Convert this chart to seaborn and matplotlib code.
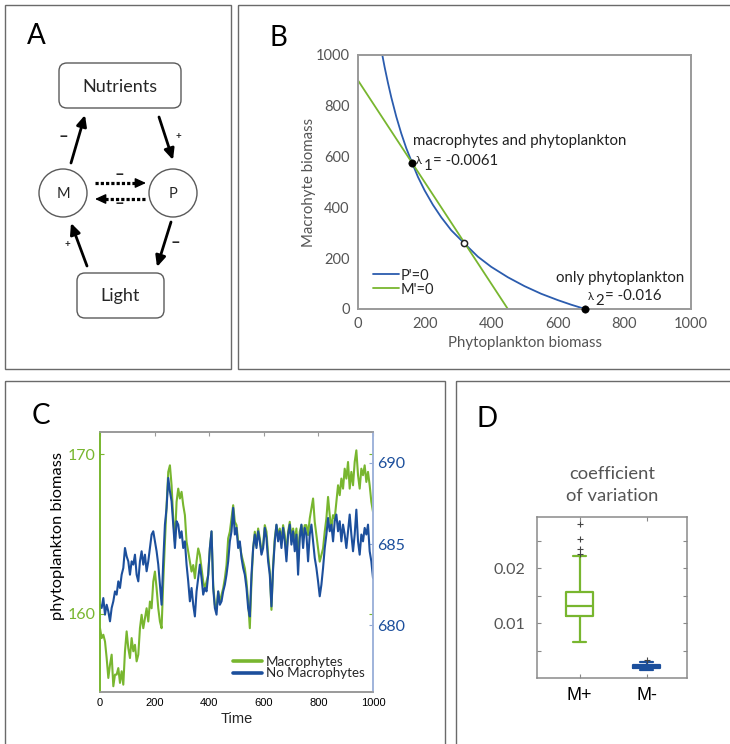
import numpy as np
import pandas as pd
import matplotlib
matplotlib.use("Agg")
import matplotlib.pyplot as plt
from matplotlib.patches import FancyBboxPatch, Circle, FancyArrowPatch, Rectangle
import seaborn as sns

sns.set_style("white")
plt.rcParams["font.family"] = ["Lato", "DejaVu Sans"]

GREEN = "#78b62f"
BLUE = "#1c4f9c"
BLUE_B = "#2b5cae"
GRAY = "#555555"
SPINE = "#9a9a9a"

# ---------------- data ----------------
# B: nullclines of the phytoplankton / macrophyte model
p_null_x = [73, 80, 90, 100, 115, 130, 145, 163, 180, 200, 225, 250, 280, 318, 360, 400,
            450, 500, 550, 600, 640, 682]
p_null_y = [1000, 952, 890, 833, 757, 691, 633, 574, 520, 467, 410, 361, 310, 260, 206, 166,
            125, 90, 60, 35, 17, 0]
m_null_x = [0, 450]
m_null_y = [900, 0]
stable_x = [163, 682]
stable_y = [574, 0]
saddle_x = [318]
saddle_y = [261]

# C: phytoplankton biomass through time (left axis: with macrophytes, right axis: without)
macro = [
    159.10, 158.48, 158.69, 158.27, 157.23, 155.98, 156.81, 157.44, 155.46, 156.19,
    156.19, 156.60, 155.67, 156.40, 155.56, 157.65, 158.90, 157.85, 157.23, 158.48,
    157.65, 158.06, 157.02, 157.44, 159.10, 159.94, 159.10, 159.73, 160.35, 159.52,
    160.77, 160.35, 162.02, 162.65, 161.60, 160.35, 159.52, 159.10, 162.02, 164.52,
    166.81, 168.90, 169.31, 168.06, 165.98, 164.52, 167.02, 167.85, 167.23, 167.65,
    166.81, 166.19, 164.52, 163.90, 163.27, 162.65, 163.06, 162.23, 163.27, 164.10,
    163.69, 162.85, 162.02, 161.60, 162.02, 162.44, 164.10, 165.15, 161.81, 160.56,
    160.35, 161.40, 160.77, 161.19, 161.60, 162.23, 163.06, 164.73, 165.15, 165.98,
    166.81, 165.77, 165.56, 164.52, 164.31, 163.69, 163.27, 162.85, 162.02, 160.77,
    159.10, 162.02, 164.10, 165.15, 164.31, 165.35, 164.73, 163.90, 164.31, 165.56,
    165.15, 163.69, 162.65, 160.25, 163.06, 164.73, 165.56, 164.94, 165.35, 164.52,
    165.56, 164.94, 163.69, 165.15, 165.77, 164.73, 165.35, 164.52, 165.35, 163.27,
    165.15, 165.56, 164.94, 165.56, 165.56, 164.94, 165.98, 166.60, 167.23, 165.77,
    164.94, 164.10, 163.27, 163.69, 164.10, 165.15, 165.98, 167.33, 166.19, 165.35,
    166.19, 165.98, 167.02, 168.06, 167.44, 168.48, 167.85, 169.10, 168.48, 169.52,
    167.85, 168.90, 168.06, 169.52, 170.25, 168.69, 167.85, 169.10, 168.69, 169.31,
    168.27, 168.90, 168.06, 167.02, 166.40,
]
no_macro = [
    681.27, 681.07, 681.68, 680.66, 681.27, 680.86, 680.25, 681.07, 681.48, 682.09,
    681.89, 682.71, 682.30, 683.12, 683.53, 684.76, 684.25, 683.94, 683.12, 683.94,
    683.74, 684.35, 683.12, 682.71, 683.94, 684.56, 683.74, 684.35, 683.33, 683.94,
    684.76, 685.59, 685.79, 685.17, 684.56, 683.74, 682.50, 681.27, 683.94, 686.20,
    687.23, 689.07, 688.25, 687.64, 686.20, 684.76, 686.41, 686.20, 685.38, 685.79,
    684.76, 685.17, 683.74, 682.71, 681.48, 682.30, 681.27, 680.55, 682.09, 682.92,
    683.74, 682.92, 681.89, 682.30, 682.09, 683.12, 684.76, 685.79, 682.30, 681.07,
    680.66, 682.09, 681.27, 681.48, 682.09, 682.50, 683.12, 683.94, 685.17, 685.79,
    687.23, 685.59, 686.00, 684.76, 685.17, 684.15, 683.53, 683.12, 682.30, 681.07,
    680.55, 683.12, 684.76, 685.59, 684.76, 685.79, 685.17, 684.35, 684.76, 686.00,
    685.38, 683.94, 683.12, 681.17, 683.53, 685.17, 686.20, 685.17, 685.79, 684.76,
    686.00, 685.17, 683.94, 685.59, 686.20, 684.97, 685.79, 684.56, 685.59, 683.12,
    685.38, 686.20, 684.76, 686.00, 685.59, 683.94, 685.59, 686.20, 685.17, 684.15,
    683.53, 682.71, 681.79, 682.50, 683.53, 684.76, 685.59, 686.61, 685.79, 686.20,
    685.17, 686.41, 686.82, 685.79, 686.41, 685.17, 686.20, 685.59, 684.76, 685.79,
    686.82, 685.59, 684.56, 685.59, 687.12, 685.17, 684.35, 685.59, 685.17, 686.00,
    685.59, 686.20, 684.56, 683.94, 682.92,
]
time = np.linspace(0, 1000, len(macro))

# D: coefficient of variation of the simulated runs
groups = ["M+", "M-"]
cv_m_plus = [0.00666, 0.0085, 0.0095, 0.0103, 0.0109, 0.01133, 0.0118, 0.0123, 0.0127, 0.0130,
             0.0132, 0.0136, 0.0141, 0.0147, 0.0152, 0.01575, 0.02224, 0.0227, 0.0236, 0.0254,
             0.0281]
cv_m_minus = [0.00145, 0.0016, 0.0017, 0.0018, 0.0019, 0.00195, 0.0020, 0.00205, 0.0021, 0.00215,
              0.0022, 0.00225, 0.0023, 0.00235, 0.0024, 0.00245, 0.0025, 0.0026, 0.0028, 0.00295,
              0.00325]

# ---------------- figure ----------------
W, H = 730, 744
fig = plt.figure(figsize=(W / 100, H / 100), dpi=100)


def rect(x0, y0, x1, y1):
    return [x0 / W, 1 - y1 / H, (x1 - x0) / W, (y1 - y0) / H]


canvas = fig.add_axes([0, 0, 1, 1], zorder=-5)
canvas.set_xlim(0, W)
canvas.set_ylim(H, 0)
canvas.axis("off")

# panel frames
for (x, y, w, h) in [(5, 5, 226, 364), (238, 5, 520, 364), (5, 381, 440, 420), (456, 381, 320, 420)]:
    canvas.add_patch(Rectangle((x, y), w, h, fill=False, ec="#6a6a6a", lw=1.0))

for lab, (x, y) in {"A": (36, 36), "B": (278, 38), "C": (41, 416), "D": (487, 419)}.items():
    canvas.text(x, y, lab, fontsize=20, ha="center", va="center", color="black")

# ---------------- A: interaction diagram ----------------
for (x, y, w, h, txt) in [(59, 63, 122, 45, "Nutrients"), (77, 273, 87, 45, "Light")]:
    canvas.add_patch(FancyBboxPatch((x, y), w, h, boxstyle="round,pad=0,rounding_size=8",
                                    fc="white", ec="#5a5a5a", lw=1.0))
    canvas.text(x + w / 2, y + h / 2 + 1, txt, fontsize=13, ha="center", va="center")
for (cx, cy, txt) in [(63, 193, "M"), (173, 193, "P")]:
    canvas.add_patch(Circle((cx, cy), 24, fc="white", ec="#5a5a5a", lw=1.0))
    canvas.text(cx, cy + 1, txt, fontsize=10.5, ha="center", va="center")

HEAD = "-|>,head_length=0.65,head_width=0.3"


def arrow(a, b):
    canvas.add_patch(FancyArrowPatch(a, b, arrowstyle=HEAD, mutation_scale=10, lw=2.0,
                                     color="black", shrinkA=0, shrinkB=0))


def dotted_arrow(x0, x1, y):
    step = 7 if x1 > x0 else -7
    canvas.plot([x0, x1 - step], [y, y], color="black", lw=2.3,
                linestyle=(0, (1.0, 0.65)), solid_capstyle="butt")
    canvas.add_patch(FancyArrowPatch((x1 - step - 0.5 * np.sign(step), y), (x1, y),
                                     arrowstyle=HEAD, mutation_scale=10, lw=1.0,
                                     color="black", shrinkA=0, shrinkB=0))


arrow((71, 163), (85, 115))
arrow((159, 117), (173, 160))
arrow((171, 222), (157, 267))
arrow((87, 266), (71, 223))
dotted_arrow(95, 146, 183)
dotted_arrow(145, 95, 199)
for (x, y, s, fs) in [(63, 136, "–", 12), (178, 136, "+", 7), (175, 242, "–", 12), (67, 245, "+", 7),
                      (119, 174, "–", 12), (119, 203, "–", 12)]:
    canvas.text(x, y, s, fontsize=fs, ha="center", va="center", fontweight="bold")

# ---------------- B: nullclines ----------------
axB = fig.add_axes(rect(358, 55, 691, 309))
sns.lineplot(x=p_null_x, y=p_null_y, ax=axB, color=BLUE_B, lw=1.3, label="P'=0",
             sort=False, estimator=None)
sns.lineplot(x=m_null_x, y=m_null_y, ax=axB, color=GREEN, lw=1.3, label="M'=0",
             sort=False, estimator=None)
sns.scatterplot(x=stable_x, y=stable_y, ax=axB, color="black", s=28, edgecolor="black",
                zorder=5, clip_on=False)
sns.scatterplot(x=saddle_x, y=saddle_y, ax=axB, color="white", s=20, edgecolor="#222",
                linewidth=1.1, zorder=5, clip_on=False)
axB.set_xlim(0, 1000)
axB.set_ylim(0, 1000)
axB.set_xticks(range(0, 1001, 200))
axB.set_yticks(range(0, 1001, 200))
axB.tick_params(direction="out", length=4, width=1.2, color=SPINE, labelcolor=GRAY,
                labelsize=10.5, pad=2)
for s in axB.spines.values():
    s.set_color(SPINE)
    s.set_linewidth(1.4)
axB.set_xlabel("Phytoplankton biomass", fontsize=10.8, color=GRAY, labelpad=3)
axB.set_ylabel("Macrohyte biomass", fontsize=10.8, color=GRAY, labelpad=0)
legB = axB.legend(loc="center left", bbox_to_anchor=(0.045, 0.104), frameon=False,
                  handlelength=1.8, handletextpad=0.1, labelspacing=0.0, borderpad=0,
                  borderaxespad=0, fontsize=10.5)

TXT = "#222222"
axB.text(166, 661, "macrophytes and phytoplankton", fontsize=10.8, color=TXT, va="center")
axB.text(594, 121, "only phytoplankton", fontsize=10.8, color=TXT, va="center")


def lam_label(x, y, idx, value):
    axB.annotate("λ", (x, y), fontsize=8, color=TXT, va="center", ha="left")
    axB.annotate(idx, (x, y), xytext=(5.8, -3.6), textcoords="offset points", fontsize=10.8,
                 color=TXT, va="center", ha="left")
    axB.annotate(value, (x, y), xytext=(12.5, 0), textcoords="offset points", fontsize=10.8,
                 color=TXT, va="center", ha="left")


lam_label(172, 583, "1", "= -0.0061")
lam_label(690, 50, "2", "= -0.016")

# ---------------- C: time series ----------------
axC = fig.add_axes(rect(100, 432, 373, 692))
sns.lineplot(x=time, y=macro, ax=axC, color=GREEN, lw=1.5, label="Macrophytes", estimator=None)
axC2 = axC.twinx()
sns.lineplot(x=time, y=no_macro, ax=axC2, color=BLUE, lw=1.5, label="No Macrophytes", estimator=None)
h1, l1 = axC.get_legend_handles_labels()
h2, l2 = axC2.get_legend_handles_labels()
axC.get_legend().remove()
axC2.get_legend().remove()
axC.set_xlim(0, 1000)
axC.set_ylim(155.1, 171.4)
axC2.set_ylim(675.9, 691.9)
axC.set_xticks(range(0, 1001, 200))
axC.set_yticks([160, 170])
axC2.set_yticks([680, 685, 690])
axC.tick_params(axis="y", color=GREEN, labelcolor=GREEN, direction="in", length=3,
                left=True, right=True, labelright=False, labelsize=11.5, pad=3)
axC.tick_params(axis="x", color=SPINE, labelcolor="black", direction="in", length=3,
                top=True, labelsize=8, pad=4)
axC2.tick_params(axis="y", color="#8ea6d3", labelcolor=BLUE, direction="in", length=3,
                 labelsize=11.5, pad=3)
for a in (axC, axC2):
    a.spines["left"].set_color(GREEN)
    a.spines["right"].set_color("#9fb3da")
    a.spines["top"].set_color(SPINE)
    a.spines["bottom"].set_color(SPINE)
    for s in a.spines.values():
        s.set_linewidth(1.2)
for lbl in axC.get_xticklabels():
    lbl.set_fontfamily("Liberation Sans")
axC.set_xlabel("Time", fontsize=10.5, fontfamily="Liberation Sans", labelpad=3)
axC.set_ylabel("")
axC2.set_ylabel("")
canvas.text(58, 536, "phytoplankton biomass", rotation=90, fontsize=11.8, color="black",
            ha="center", va="center")
legC = axC2.legend(h1 + h2, l1 + l2, loc="center left", bbox_to_anchor=(0.486, 0.093),
                   frameon=False, handlelength=2.2, handletextpad=0.3, labelspacing=-0.05,
                   borderpad=0, borderaxespad=0, fontsize=9.6)
for ln in legC.get_lines():
    ln.set_linewidth(2.6)

# ---------------- D: coefficient of variation ----------------
axD = fig.add_axes(rect(536.7, 516.7, 687.3, 678.3))
cv = pd.DataFrame({"group": ["M+"] * len(cv_m_plus) + ["M-"] * len(cv_m_minus),
                   "cv": cv_m_plus + cv_m_minus})
sns.boxplot(data=cv, x="group", y="cv", hue="group", order=groups, hue_order=groups,
            palette=[GREEN, BLUE], fill=False, width=0.4, linewidth=1.6, whis=1.5,
            flierprops=dict(marker="+", markersize=5, markeredgewidth=0.8),
            legend=False, ax=axD)
for ln in axD.lines:
    if ln.get_marker() == "+":
        ln.set_markeredgecolor("#444444")
axD.set_xlim(-0.642, 1.606)
axD.set_ylim(0, 0.0294)
axD.set_yticks([0.005, 0.01, 0.015, 0.02, 0.025])
axD.set_yticklabels(["", "0.01", "", "0.02", ""])
axD.tick_params(axis="y", direction="in", length=3, left=True, right=True, color="#888",
                labelcolor=GRAY, labelsize=11.5, pad=8)
axD.tick_params(axis="x", direction="in", length=3, bottom=True, top=True, color="#888",
                labelcolor="black", labelsize=13, pad=6)
for lbl in axD.get_xticklabels():
    lbl.set_fontfamily("Liberation Sans")
for s in axD.spines.values():
    s.set_color("#8a8a8a")
    s.set_linewidth(1.1)
axD.set_xlabel("")
axD.set_ylabel("")
axD.text(0.5, 1.196, "coefficient\nof variation", transform=axD.transAxes, ha="center",
         va="center", fontsize=13.2, color=GRAY, linespacing=1.4)

fig.savefig("out.png", dpi=100)
